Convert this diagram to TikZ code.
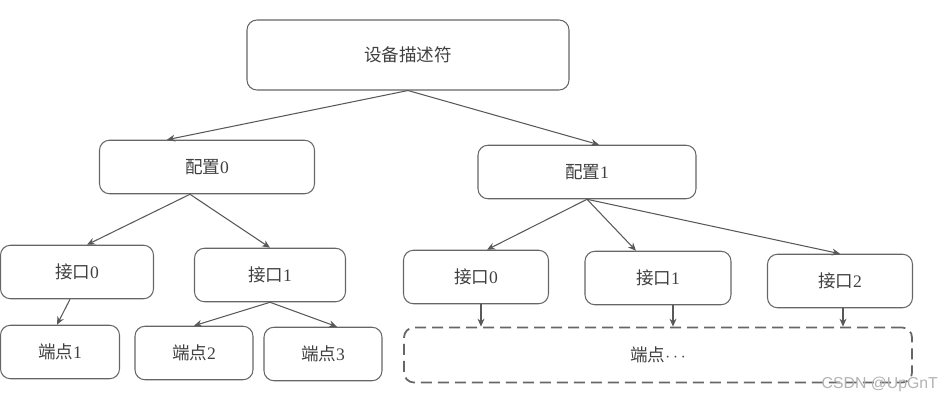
\documentclass[tikz,border=0pt]{standalone}
\usepackage{fontspec}
\setmainfont{Liberation Serif}
\newfontfamily\cjk{Noto Sans CJK SC}
\newfontfamily\marksans{Liberation Sans}
\usetikzlibrary{positioning,arrows.meta}

\begin{document}
\begin{tikzpicture}[x=0.2mm, y=-0.2mm,
				box/.style={draw=black!60, line width=0.6pt, rounded corners=2mm, minimum height=1.07cm,
					inner sep=0pt, text=black!75, font=\fontsize{10}{12}\selectfont},
				dbox/.style={box, line width=1pt, dash pattern=on 2.2mm off 1.2mm},
				link/.style={-{Stealth[length=1.6mm, width=1.4mm]}, draw=black!65, line width=0.6pt}
				]
				\useasboundingbox (0,0) rectangle (945,402);
				% nodes
				\node[box, minimum width=6.44cm, minimum height=1.4cm] (dev) at (408,55) {\cjk 设备描述符};
				\node[box, minimum width=4.3cm] (cfgA) at (207,167) {{\cjk 配置}0};
				\node[box, minimum width=4.36cm] (cfgB) at (587,172) {{\cjk 配置}1};
				\node[box, minimum width=3.06cm] (ifA0) at (77,272) {{\cjk 接口}0};
				\node[box, minimum width=3.02cm] (ifA1) at (270,275) {{\cjk 接口}1};
				\node[box, minimum width=2.9cm] (ifB0) at (476,277) {{\cjk 接口}0};
				\node[box, minimum width=2.92cm] (ifB1) at (658,278) {{\cjk 接口}1};
				\node[box, minimum width=2.9cm] (ifB2) at (840,281) {{\cjk 接口}2};
				\node[box, minimum width=2.38cm] (epA) at (60,352) {{\cjk 端点}1};
				\node[box, minimum width=2.36cm] (epB) at (194,353) {{\cjk 端点}2};
				\node[box, minimum width=2.36cm] (epC) at (323,354) {{\cjk 端点}3};
				\node[dbox, minimum width=10.16cm, minimum height=1.1cm] (epX) at (658,355) {{\cjk 端点}$\cdots$};
				\node[text=black!30, font=\marksans\fontsize{9}{10}\selectfont, anchor=east, inner sep=1pt] (mark) at (940,384) {CSDN @UpGnT};
				% connectors
				\draw[link] (dev.south) to ([xshift=-0.8cm]cfgA.north);
				\draw[link] (dev.south) to ([xshift=0.24cm]cfgB.north);
				\draw[link] ([xshift=-0.34cm]cfgA.south) to ([xshift=0.2cm]ifA0.north);
				\draw[link] ([xshift=-0.34cm]cfgA.south) to (ifA1.north);
				\draw[link] ([xshift=-0.14cm]ifA0.south) to ([xshift=-0.06cm]epA.north);
				\draw[link] (ifA1.south) to (epB.north);
				\draw[link] (ifA1.south) to ([xshift=0.28cm]epC.north);
				\draw[link] (cfgB.south) to ([xshift=0.22cm]ifB0.north);
				\draw[link] (cfgB.south) to ([xshift=-0.44cm]ifB1.north);
				\draw[link] (cfgB.south) to (ifB2.north);
				\draw[link] ([xshift=0.1cm]ifB0.south) to ([xshift=0.1cm]ifB0.south |- epX.north);
				\draw[link] ([xshift=0.3cm]ifB1.south) to ([xshift=0.3cm]ifB1.south |- epX.north);
				\draw[link] ([xshift=0.06cm]ifB2.south) to ([xshift=0.06cm]ifB2.south |- epX.north);
			\end{tikzpicture}
\end{document}
